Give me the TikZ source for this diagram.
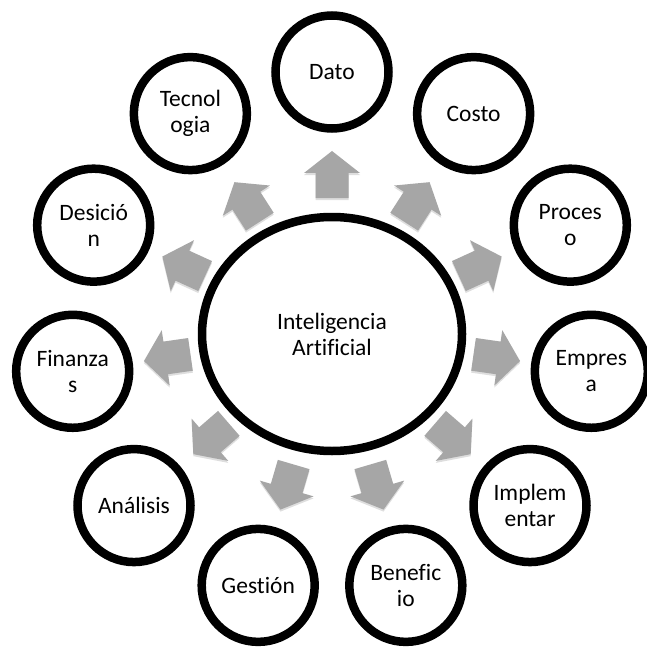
\documentclass[tikz,border=0pt]{standalone}
\usepackage{fontspec}
\setmainfont{Carlito}[Ligatures=NoCommon]
\usetikzlibrary{calc,shapes.geometric}
\definecolor{arrowgray}{RGB}{166,166,166}
\begin{document}
\begin{tikzpicture}[x=1pt,y=-1pt,
  txt/.style={font=\fontsize{23.5}{26}\selectfont},
  satnode/.style={circle,draw=black,line width=8.5pt,fill=white,minimum size=113pt,inner sep=0pt,align=center,txt},
  ctrnode/.style={ellipse,draw=black,line width=8.5pt,fill=white,minimum width=260pt,minimum height=234pt,inner sep=0pt,align=center,txt},
  blockarrow/.style={fill=arrowgray},
  arrowshadow/.style={fill=black,opacity=0.13}]
\useasboundingbox[fill=white] (0,0) rectangle (647,647);
\node[ctrnode] (ctr) at (332,334) {Inteligencia\\Artificial};
\foreach \i/\t in {0/Dato,1/Costo,2/{Proces\\o},3/{Empres\\a},4/{Implem\\entar},5/{Benefic\\io},6/Gestión,7/Análisis,8/{Finanza\\s},9/{Desició\\n},10/{Tecnol\\ogia}}{
  \pgfmathsetmacro\a{90-360/11*\i}
  \node[satnode] (o\i) at ({332+262*cos(\a)},{334-262*sin(\a)}) {\t};
}
\foreach \i/\d in {0/159.5,1/157,2/163,3/166.5,4/160,5/159.5,6/159.5,7/160,8/166.5,9/163,10/157}{
  \pgfmathsetmacro\a{90-360/11*\i}
  \coordinate (a\i) at ($(ctr)!\d pt!(o\i)$);
  \fill[arrowshadow,shift={($(a\i)+(0,2)$)},rotate=\a] (23.5,0) -- (1.5,28) -- (1.5,16.5) -- (-23.5,16.5) -- (-23.5,-16.5) -- (1.5,-16.5) -- (1.5,-28) -- cycle;
  \fill[blockarrow,shift={(a\i)},rotate=\a] (23.5,0) -- (1.5,28) -- (1.5,16.5) -- (-23.5,16.5) -- (-23.5,-16.5) -- (1.5,-16.5) -- (1.5,-28) -- cycle;
}
\end{tikzpicture}
\end{document}
